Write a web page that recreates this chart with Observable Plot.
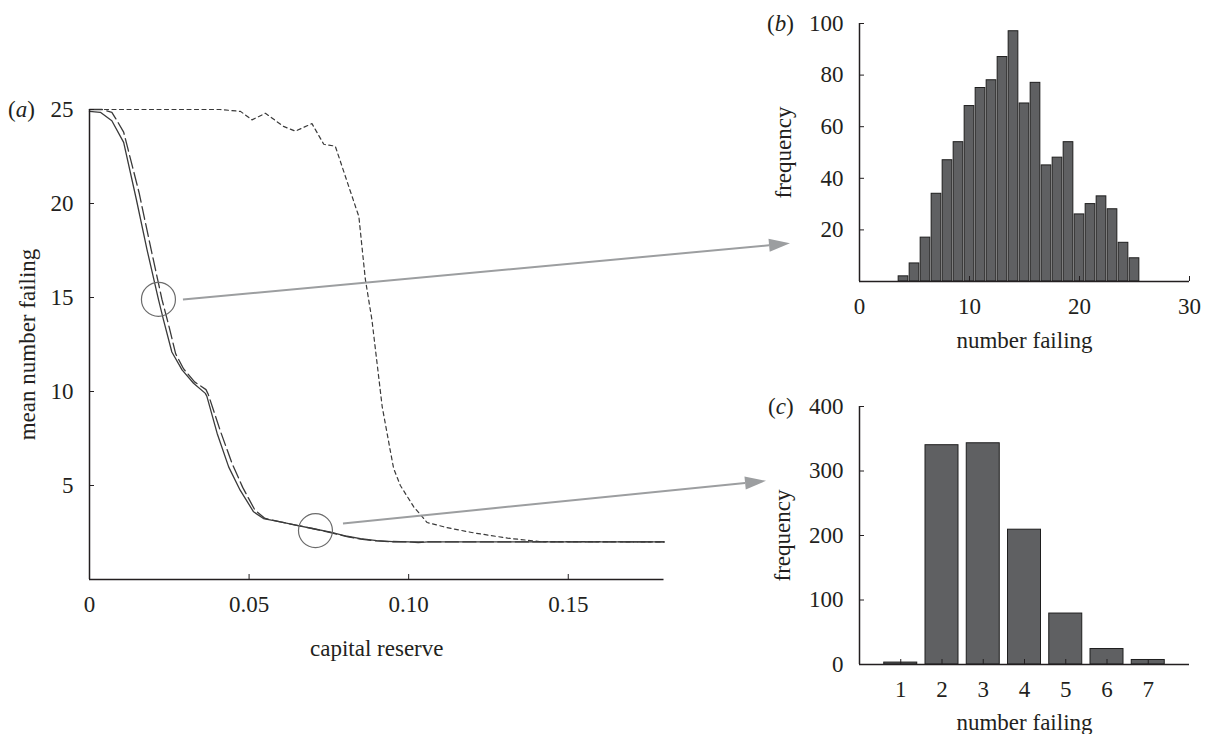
<!DOCTYPE html>
<html><head><meta charset="utf-8">
<script src="https://cdn.jsdelivr.net/npm/d3@7"></script>
<script src="https://cdn.jsdelivr.net/npm/@observablehq/plot@0.6"></script>
<style>
html,body{margin:0;padding:0;background:#fff;}
#wrap{position:relative;width:1207px;height:734px;overflow:hidden;background:#fff;}
#wrap svg{position:absolute;margin:0;overflow:visible;}
</style></head><body><div id="wrap"></div>
<script>
// ---------- Panel (a): mean number failing vs capital reserve ----------
const solidLine = [
  [0,24.9],[0.0034,24.85],[0.007,24.4],[0.0107,23.25],[0.0147,20.2],[0.018,17.56],
  [0.0216,14.9],[0.0232,13.8],[0.0258,12.1],[0.029,11.15],[0.0326,10.44],[0.0363,9.9],
  [0.0368,9.73],[0.04,7.77],[0.0436,5.99],[0.0472,4.75],[0.0514,3.6],[0.0545,3.24],
  [0.0598,3.06],[0.065,2.88],[0.0702,2.7],[0.0755,2.52],[0.0807,2.3],[0.0849,2.17],
  [0.09,2.07],[0.095,2.02],[0.1,2.0],[0.103,1.96],[0.106,2.0],[0.12,2.0],[0.18,2.0]
];
const longDashLine = [
  [0,25.0],[0.004,25.0],[0.007,24.85],[0.0088,24.35],[0.0107,23.8],[0.0155,20.6],
  [0.019,17.8],[0.0227,14.9],[0.025,13.4],[0.027,12.0],[0.0295,11.2],[0.033,10.5],
  [0.0365,10.1],[0.0372,9.85],[0.041,7.9],[0.0446,6.2],[0.048,4.9],[0.0518,3.7],
  [0.055,3.25],[0.0598,3.06],[0.065,2.88],[0.0702,2.7],[0.0755,2.5],[0.0807,2.28],
  [0.0849,2.15],[0.09,2.05],[0.095,2.0],[0.1,2.0],[0.18,2.0]
];
const shortDashLine = [
  [0,25],[0.041,25],[0.0473,24.9],[0.0509,24.45],[0.0551,24.8],[0.0608,24.1],
  [0.0645,23.85],[0.0697,24.25],[0.0734,23.15],[0.077,23.05],[0.0844,19.3],[0.0864,16.0],
  [0.0885,13.8],[0.0917,9.2],[0.0943,6.8],[0.0953,5.9],[0.0974,5.0],[0.1016,3.86],
  [0.1058,3.03],[0.112,2.76],[0.1204,2.48],[0.131,2.2],[0.141,2.02],[0.18,2.0]
];
const xTicksA = [0, 0.05, 0.10, 0.15];
const yTicksA = [5, 10, 15, 20, 25];
// highlighted points (circles) and the panel each one expands into
const highlights = [
  {x: 0.0216, y: 14.9, target: "b"},
  {x: 0.0708, y: 2.6, target: "c"}
];

// ---------- Panel (b): histogram of number failing ----------
const histBins = [4,5,6,7,8,9,10,11,12,13,14,15,16,17,18,19,20,21,22,23,24,25];
const histFreq = [2,7,17,34,47,54,68,75,78,87,97,69,77,45,48,54,26,30,33,28,15,9];
const xTicksB = [0, 10, 20, 30];
const yTicksB = [20, 40, 60, 80, 100];

// ---------- Panel (c): bar chart of number failing ----------
const failCats = [1,2,3,4,5,6,7];
const failFreq = [3,340,343,209,79,24,7];
const xTicksC = [1,2,3,4,5,6,7];
const yTicksC = [0,100,200,300,400];

// ---------- styling ----------
const FONT = "'Liberation Serif', 'Times New Roman', serif";
const INK = "#231f20";
const LINE = "#3a3a3a";
const BAR = "#5f6062";
const ARROW = "#9c9ea0";
const baseStyle = {fontFamily: FONT, fontSize: "23px", color: INK, background: "transparent", overflow: "visible"};

const wrap = document.getElementById("wrap");

function axes(xt, yt, xfmt) {
  return [
    Plot.ruleX([0], {stroke: INK, strokeWidth: 1.5}),
    Plot.ruleY([0], {stroke: INK, strokeWidth: 1.5}),
    Plot.axisX({ticks: xt, tickFormat: xfmt, tickSize: -5, tickPadding: 21, label: null, stroke: INK, fill: INK}),
    Plot.axisY({ticks: yt, tickFormat: d => String(d), tickSize: -5, tickPadding: 21, label: null, stroke: INK, fill: INK})
  ];
}
function xLabel(text, dy) {
  return Plot.text([text], {frameAnchor: "bottom", lineAnchor: "middle", textAnchor: "middle", dy, fill: INK});
}
function yLabel(text, dx) {
  return Plot.text([text], {frameAnchor: "left", lineAnchor: "middle", textAnchor: "middle", rotate: -90, dx, fill: INK});
}

// Panel (a)
const A = {left: 0, top: 0};
const plotA = Plot.plot({
  width: 700, height: 680,
  marginLeft: 89, marginRight: 36.5, marginTop: 109, marginBottom: 101,
  style: baseStyle,
  x: {domain: [0, 0.18]},
  y: {domain: [0, 25]},
  marks: [
    Plot.line(shortDashLine, {x: d => d[0], y: d => d[1], stroke: LINE, strokeWidth: 1.2, strokeDasharray: "4,3.5"}),
    Plot.line(longDashLine, {x: d => d[0], y: d => d[1], stroke: LINE, strokeWidth: 1.3, strokeDasharray: "13,4.5"}),
    Plot.line(solidLine, {x: d => d[0], y: d => d[1], stroke: LINE, strokeWidth: 1.3}),
    Plot.dot(highlights, {x: "x", y: "y", r: 17, stroke: "#6b6b6b", strokeWidth: 1.2, fill: "none"}),
    ...axes(xTicksA, yTicksA, d => d === 0 ? "0" : d.toFixed(2)),
    xLabel("capital reserve", 69),
    yLabel("mean number failing", -62)
  ]
});

// Panel (b)
const B = {left: 740, top: 0};
const histData = histBins.map((b, i) => ({b, f: histFreq[i]}));
const plotB = Plot.plot({
  width: 467, height: 370,
  marginLeft: 119, marginRight: 18, marginTop: 23, marginBottom: 89,
  style: baseStyle,
  x: {domain: [0, 30]},
  y: {domain: [0, 100]},
  marks: [
    Plot.rectY(histData, {x1: d => d.b - 0.44, x2: d => d.b + 0.44, y: "f", fill: BAR, stroke: "#1e1e1e", strokeWidth: 1}),
    ...axes(xTicksB, yTicksB, d => String(d)),
    xLabel("number failing", 59),
    yLabel("frequency", -76)
  ]
});

// Panel (c)
const C = {left: 740, top: 380};
const catData = failCats.map((c, i) => ({c, f: failFreq[i]}));
const plotC = Plot.plot({
  width: 467, height: 354,
  marginLeft: 119, marginRight: 18, marginTop: 26, marginBottom: 70,
  style: baseStyle,
  x: {domain: [0, 8]},
  y: {domain: [0, 400]},
  marks: [
    Plot.rectY(catData, {x1: d => d.c - 0.4, x2: d => d.c + 0.4, y: "f", fill: BAR, stroke: "#1e1e1e", strokeWidth: 1}),
    ...axes(xTicksC, yTicksC, d => String(d)),
    xLabel("number failing", 58),
    yLabel("frequency", -77)
  ]
});

for (const [p, pos] of [[plotA, A], [plotB, B], [plotC, C]]) {
  p.style.left = pos.left + "px";
  p.style.top = pos.top + "px";
  wrap.appendChild(p);
}

// ---------- overlay: arrows linking the circles to panels (b) and (c), panel letters ----------
const xa = plotA.scale("x"), ya = plotA.scale("y");
const xb = plotB.scale("x"), yb = plotB.scale("y");
const xc = plotC.scale("x"), yc = plotC.scale("y");

const overlay = d3.create("svg")
  .attr("width", 1207).attr("height", 734)
  .style("left", "0px").style("top", "0px").style("pointer-events", "none");

const targets = {
  b: {x: B.left + xb.apply(0) - 69, y: B.top + yb.apply(14.6), sdx: 25, sdy: 0.7},
  c: {x: C.left + xc.apply(0) - 93, y: C.top + yc.apply(284), sdx: 28, sdy: -6.7}
};

for (const h of highlights) {
  const t = targets[h.target];
  const sx = A.left + xa.apply(h.x) + t.sdx;
  const sy = A.top + ya.apply(h.y) + t.sdy;
  const dx = t.x - sx, dy = t.y - sy, len = Math.hypot(dx, dy);
  const ux = dx / len, uy = dy / len;
  const headL = 21, headW = 6.5;
  const bx = t.x - ux * headL, by = t.y - uy * headL;
  overlay.append("line")
    .attr("x1", sx).attr("y1", sy).attr("x2", bx).attr("y2", by)
    .attr("stroke", ARROW).attr("stroke-width", 2);
  overlay.append("path")
    .attr("d", `M${t.x},${t.y}L${bx - uy * headW},${by + ux * headW}L${bx + uy * headW},${by - ux * headW}Z`)
    .attr("fill", ARROW);
}

const letters = [
  {l: "a", x: A.left + xa.apply(0) - 81, y: A.top + ya.apply(25)},
  {l: "b", x: B.left + xb.apply(0) - 92, y: B.top + yb.apply(100)},
  {l: "c", x: C.left + xc.apply(0) - 91, y: C.top + yc.apply(400)}
];
for (const L of letters) {
  const t = overlay.append("text")
    .attr("x", L.x).attr("y", L.y).attr("dy", "0.35em")
    .attr("font-family", FONT).attr("font-size", 23).attr("fill", INK);
  t.append("tspan").text("(");
  t.append("tspan").attr("font-style", "italic").text(L.l);
  t.append("tspan").text(")");
}
wrap.appendChild(overlay.node());
</script>
</body></html>
